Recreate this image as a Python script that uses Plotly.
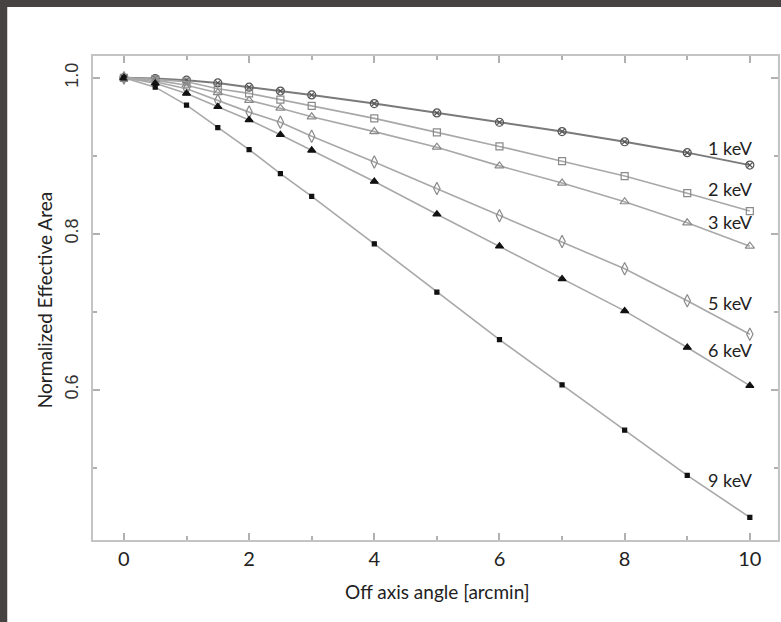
import plotly.graph_objects as go

angle = [0, 0.5, 1, 1.5, 2, 2.5, 3, 4, 5, 6, 7, 8, 9, 10]
kev1 = [1.000, 0.999, 0.997, 0.9935, 0.988, 0.983, 0.978, 0.967, 0.955, 0.943, 0.931, 0.918, 0.904, 0.888]
kev2 = [1.000, 0.998, 0.995, 0.986, 0.980, 0.972, 0.964, 0.948, 0.930, 0.912, 0.893, 0.874, 0.852, 0.829]
kev3 = [1.000, 0.997, 0.9905, 0.981, 0.971, 0.961, 0.950, 0.931, 0.911, 0.887, 0.865, 0.841, 0.814, 0.784]
kev5 = [1.000, 0.995, 0.986, 0.971, 0.956, 0.943, 0.925, 0.892, 0.858, 0.823, 0.790, 0.755, 0.714, 0.671]
kev6 = [1.000, 0.993, 0.980, 0.963, 0.946, 0.927, 0.907, 0.867, 0.825, 0.784, 0.742, 0.701, 0.654, 0.605]
kev9 = [1.000, 0.988, 0.965, 0.936, 0.908, 0.877, 0.848, 0.787, 0.725, 0.664, 0.606, 0.548, 0.490, 0.436]
labels = ["1 keV", "2 keV", "3 keV", "5 keV", "6 keV", "9 keV"]
x_ticks = [0, 2, 4, 6, 8, 10]
y_ticks = [0.6, 0.8, 1.0]

series = [kev1, kev2, kev3, kev5, kev6, kev9]
styles = [
    dict(line="#7a7a7a", lw=2.0, sym="circle-x-open", mc="#555555", ms=8),
    dict(line="#a8a8a8", lw=1.6, sym="square-open", mc="#8a8a8a", ms=7),
    dict(line="#a8a8a8", lw=1.6, sym="triangle-up-open", mc="#8a8a8a", ms=8),
    dict(line="#a8a8a8", lw=1.6, sym="diamond-tall-open", mc="#8a8a8a", ms=9),
    dict(line="#a8a8a8", lw=1.6, sym="triangle-up", mc="#111111", ms=7),
    dict(line="#a8a8a8", lw=1.6, sym="square", mc="#111111", ms=4),
]
label_y = [0.9097, 0.857, 0.815, 0.711, 0.651, 0.484]

fig = go.Figure()
for name, vals, st in zip(labels, series, styles):
    fig.add_trace(go.Scatter(
        x=angle, y=vals, mode="lines+markers", name=name,
        line=dict(color=st["line"], width=st["lw"]),
        marker=dict(symbol=st["sym"], color=st["mc"], size=st["ms"],
                    line=dict(color=st["mc"], width=1.2)),
        showlegend=False,
    ))

for name, ly in zip(labels, label_y):
    fig.add_annotation(x=9.3, y=ly, xref="x", yref="y", text=name, showarrow=False,
                       xanchor="left", yanchor="middle",
                       font=dict(family="Lato", size=18, color="#222222"))

# plot area in page px: 93..780, 56..540
PW, PH = 687, 484
fig.add_annotation(x=(438 - 93) / PW, y=(540 - 591) / PH, xref="paper", yref="paper",
                   text="Off axis angle [arcmin]", showarrow=False,
                   xanchor="center", yanchor="middle",
                   font=dict(family="Lato", size=19, color="#222222"))
fig.add_annotation(x=(44 - 93) / PW, y=(540 - 300) / PH, xref="paper", yref="paper",
                   text="Normalized Effective Area", showarrow=False, textangle=-90,
                   xanchor="center", yanchor="middle",
                   font=dict(family="Lato", size=19, color="#222222"))

# white page area inside the dark border (top and left)
fig.add_shape(type="rect", xref="paper", yref="paper",
              x0=(7 - 93) / PW, x1=1.05, y0=-0.3, y1=(540 - 7) / PH,
              fillcolor="white", line=dict(width=0), layer="below")

axis_common = dict(
    showline=True, linecolor="#c4c4c4", linewidth=2, mirror="allticks",
    ticks="inside", ticklen=7, tickwidth=1.5, tickcolor="#b0b0b0",
    showgrid=False, zeroline=False,
)
fig.update_xaxes(range=[-0.494, 10.45], tickvals=x_ticks,
                 ticktext=[str(v) for v in x_ticks],
                 tickfont=dict(family="Lato", size=20, color="#222222"),
                 minor=dict(ticks="inside", ticklen=4, dtick=1, tick0=0,
                            tickcolor="#b0b0b0", tickwidth=1.5),
                 ticklabelstandoff=0, **axis_common)
fig.update_yaxes(range=[0.407, 1.028], tickvals=y_ticks,
                 ticktext=["0.6", "0.8", "1.0"], tickangle=-90,
                 tickfont=dict(family="Liberation Sans", size=18, color="#333333"),
                 minor=dict(ticks="inside", ticklen=4, dtick=0.1, tick0=0.5,
                            tickcolor="#b0b0b0", tickwidth=1.5),
                 ticklabelstandoff=6, **axis_common)

fig.update_layout(
    width=781, height=622,
    margin=dict(l=93, r=1, t=56, b=82),
    paper_bgcolor="#474343", plot_bgcolor="white",
)

fig.write_html(
    "out.html",
    config={"displayModeBar": False},
    post_script="document.body.style.margin='0';"
                "document.body.style.background='#474343';"
                "document.body.style.overflow='hidden';",
)
